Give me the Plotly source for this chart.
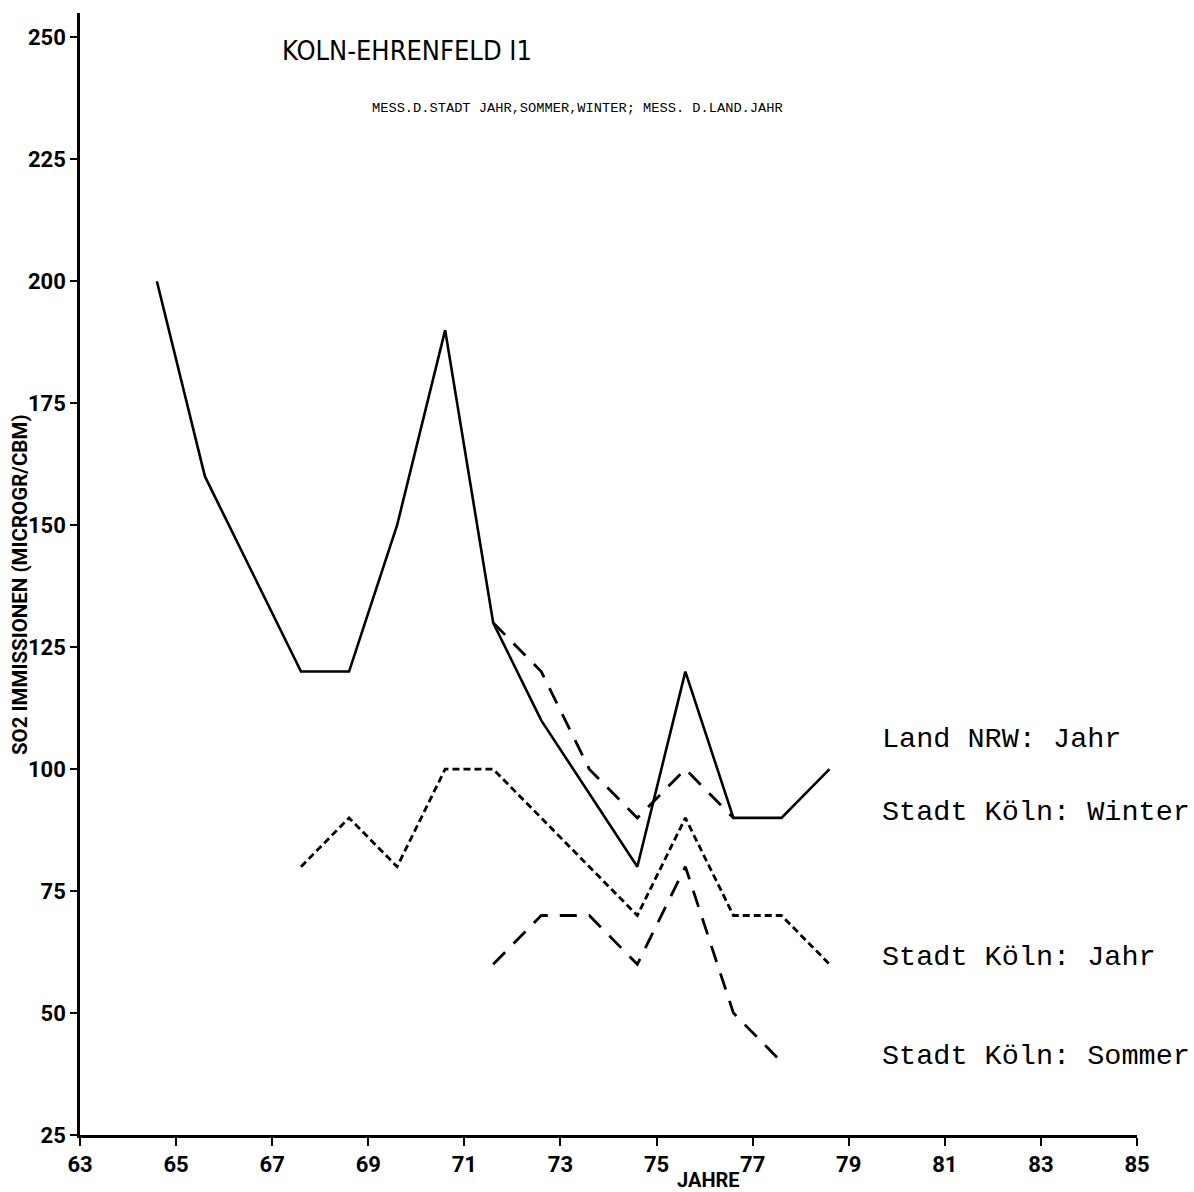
import plotly.graph_objects as go

# SO2-Immissionen Köln-Ehrenfeld, Jahresmittel und Halbjahreswerte
years_land = [64.6, 65.6, 66.6, 67.6, 68.6, 69.6, 70.6, 71.6, 72.6, 73.6, 74.6, 75.6, 76.6, 77.6, 78.6]
land_jahr = [200, 160, 140, 120, 120, 150, 190, 130, 110, 95, 80, 120, 90, 90, 100]

years_stadt_jahr = [67.6, 68.6, 69.6, 70.6, 71.6, 72.6, 73.6, 74.6, 75.6, 76.6, 77.6, 78.6]
stadt_jahr = [80, 90, 80, 100, 100, 90, 80, 70, 90, 70, 70, 60]

years_winter = [71.6, 72.6, 73.6, 74.6, 75.6, 76.6]
stadt_winter = [130, 120, 100, 90, 100, 90]

years_sommer = [71.6, 72.6, 73.6, 74.6, 75.6, 76.6, 77.6]
stadt_sommer = [60, 70, 70, 60, 80, 50, 40]

x_ticks = list(range(63, 86, 2))
y_ticks = list(range(25, 251, 25))

series_labels = [
    ("Land NRW: Jahr", 106),
    ("Stadt Köln: Winter", 91.2),
    ("Stadt Köln: Jahr", 61.3),
    ("Stadt Köln: Sommer", 41),
]

PLOT_FONT = "Roboto, DejaVu Sans, sans-serif"
TITLE_FONT = "DejaVu Sans Condensed, DejaVu Sans, sans-serif"
MONO_FONT = "Liberation Mono, DejaVu Sans Mono, Courier New, monospace"

fig = go.Figure()
fig.add_trace(go.Scatter(x=years_land, y=land_jahr, mode="lines",
                         line=dict(color="black", width=2.6, dash="solid")))
fig.add_trace(go.Scatter(x=years_stadt_jahr, y=stadt_jahr, mode="lines",
                         line=dict(color="black", width=2.8, dash="7px,4px")))
fig.add_trace(go.Scatter(x=years_winter, y=stadt_winter, mode="lines",
                         line=dict(color="black", width=2.8, dash="17px,12px")))
fig.add_trace(go.Scatter(x=years_sommer, y=stadt_sommer, mode="lines",
                         line=dict(color="black", width=2.8, dash="17px,12px")))

annotations = [
    dict(text="KOLN-EHRENFELD I1", xref="paper", yref="paper", x=(280 - 80) / 1057, y=1.0,
         yshift=-37, xanchor="left", yanchor="middle", showarrow=False,
         font=dict(family=TITLE_FONT, size=27, color="black")),
    dict(text="MESS.D.STADT JAHR,SOMMER,WINTER; MESS. D.LAND.JAHR", xref="paper", yref="paper",
         x=(370 - 80) / 1057, y=1.0, yshift=-95, xanchor="left", yanchor="middle", showarrow=False,
         font=dict(family=MONO_FONT, size=13.7, color="black")),
    dict(text="JAHRE", xref="paper", yref="paper", x=(708 - 80) / 1057, y=0.0,
         yshift=-45, xanchor="center", yanchor="middle", showarrow=False,
         font=dict(family=PLOT_FONT, size=20, color="black", weight="bold")),
    dict(text="SO2 IMMISSIONEN (MICROGR/CBM)", xref="paper", yref="paper", x=0.0,
         y=(1135 - 585) / 1122, xshift=-60, textangle=-90, xanchor="center", yanchor="middle",
         showarrow=False, font=dict(family=PLOT_FONT, size=20.5, color="black", weight="bold")),
]
for text, yv in series_labels:
    annotations.append(dict(text=text, x=79.65, y=yv, xanchor="left", yanchor="middle",
                            showarrow=False,
                            font=dict(family=MONO_FONT, size=28.5, color="black")))

fig.update_layout(
    width=1194, height=1192,
    margin=dict(l=80, r=57, t=13, b=57),
    plot_bgcolor="white", paper_bgcolor="white",
    showlegend=False,
    annotations=annotations,
    xaxis=dict(range=[63, 85], tickvals=x_ticks, ticktext=[str(v) for v in x_ticks],
               showgrid=False, zeroline=False, showline=True, linecolor="black", linewidth=2.5,
               ticks="outside", ticklen=8, tickwidth=2.2, tickcolor="black",
               tickfont=dict(family=PLOT_FONT, size=22, color="black", weight="bold")),
    yaxis=dict(range=[25, 255], tickvals=y_ticks, ticktext=[str(v) for v in y_ticks],
               showgrid=False, zeroline=False, showline=True, linecolor="black", linewidth=2.5,
               ticks="outside", ticklen=7, tickwidth=2.2, tickcolor="black",
               tickfont=dict(family=PLOT_FONT, size=22, color="black", weight="bold")),
)

fig.write_html("out.html")
